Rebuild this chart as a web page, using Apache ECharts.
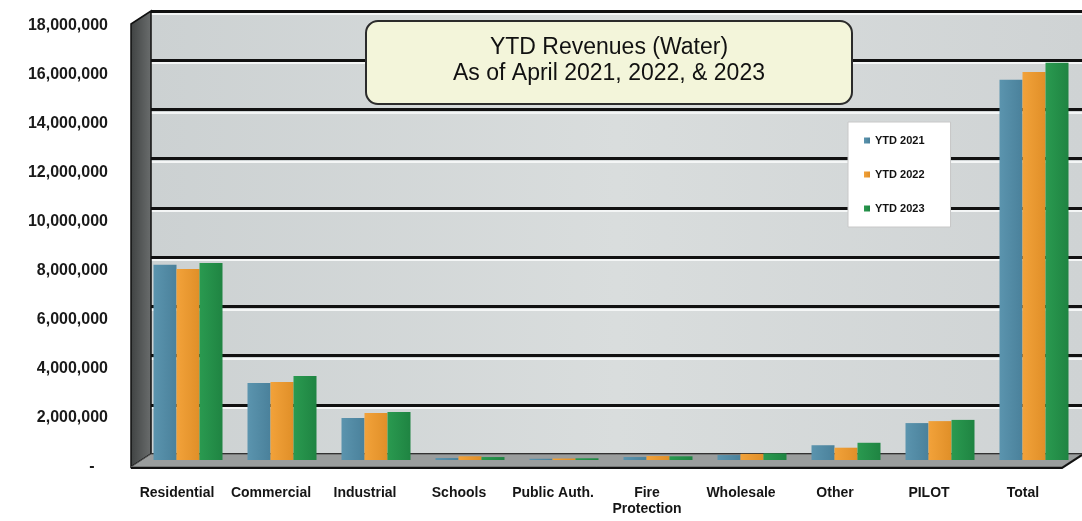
<!DOCTYPE html>
<html>
<head>
<meta charset="utf-8">
<title>YTD Revenues (Water)</title>
<script src="https://cdn.jsdelivr.net/npm/echarts@6/dist/echarts.min.js"></script>
<style>
  html, body { margin: 0; padding: 0; background: #ffffff; }
  #chart { width: 1082px; height: 521px; }
</style>
</head>
<body>
<div id="chart"></div>
<script>
// Revenue categories (x axis)
const categories = ['Residential', 'Commercial', 'Industrial', 'Schools', 'Public Auth.',
  'Fire\nProtection', 'Wholesale', 'Other', 'PILOT', 'Total'];

// Year-to-date water revenues as of April, in dollars
const ytd2021 = [7930000, 3130000, 1710000, 80000, 50000, 120000, 200000, 600000, 1500000, 15450000];
const ytd2022 = [7760000, 3170000, 1910000, 150000, 60000, 160000, 250000, 500000, 1580000, 15770000];
const ytd2023 = [8000000, 3410000, 1950000, 120000, 70000, 150000, 270000, 700000, 1630000, 16140000];

const seriesNames = ['YTD 2021', 'YTD 2022', 'YTD 2023'];

// Value axis ticks
const yMin = 0;
const yMax = 18000000;
const yStep = 2000000;

const FONT = '"Liberation Sans", Arial, sans-serif';
const colors = ['#5b94ae', '#f2a23a', '#2a9a50'];
const darker = ['#4a819b', '#e08f28', '#1f8442'];

// Layout of the pseudo-3D plot box: back wall, side wall and floor
const W = 1082, H = 521;
const wall = { left: 151, top: 11, bottom: 67 };            // back wall
const depth = { x: 20, y: 13 };                              // offset to the front edge
const front = { left: 141, right: 1, top: 17, bottom: 61 };  // plane the bars stand on
const edge = { left: 130, right: 12, top: 26, bottom: 54 };  // front edge that carries the labels

const chart = echarts.init(document.getElementById('chart'), null, { renderer: 'canvas' });

function hGrad(c1, c2) {
  return new echarts.graphic.LinearGradient(0, 0, 1, 0, [
    { offset: 0, color: c1 }, { offset: 1, color: c2 }
  ]);
}

const wallBottomY = H - wall.bottom;
const frontY = wallBottomY + depth.y;

const hiddenValueAxis = (gridIndex) => ({ gridIndex, type: 'value', min: 0, max: 1, show: false });

const option = {
  backgroundColor: '#ffffff',
  animation: false,
  grid: [
    { left: wall.left, right: 0, top: wall.top, bottom: wall.bottom, show: true, borderWidth: 0,
      backgroundColor: new echarts.graphic.LinearGradient(0, 0, 1, 0, [
        { offset: 0, color: '#ccd1d2' }, { offset: 0.5, color: '#d9dddd' }, { offset: 1, color: '#cfd3d4' }
      ]) },
    { left: wall.left, right: 0, top: wall.top + 3, bottom: wall.bottom - 3 },
    { left: front.left, right: front.right, top: front.top, bottom: front.bottom },
    { left: edge.left, right: edge.right, top: edge.top, bottom: edge.bottom }
  ],
  xAxis: [
    hiddenValueAxis(0),
    hiddenValueAxis(1),
    { gridIndex: 2, type: 'category', data: categories, show: false },
    { gridIndex: 3, type: 'category', data: categories,
      axisLine: { show: false }, axisTick: { show: false },
      axisLabel: { interval: 0, margin: 18, lineHeight: 16,
        fontFamily: FONT, fontSize: 14, fontWeight: 'bold', color: '#151515' } }
  ],
  yAxis: [
    { gridIndex: 0, type: 'value', min: yMin, max: yMax, interval: yStep,
      axisLine: { show: false }, axisTick: { show: false }, axisLabel: { show: false },
      splitLine: { show: true, lineStyle: { color: '#111111', width: 3 } } },
    { gridIndex: 1, type: 'value', min: yMin, max: yMax, interval: yStep,
      axisLine: { show: false }, axisTick: { show: false }, axisLabel: { show: false },
      splitLine: { show: true, lineStyle: { color: '#f4f6f6', width: 2 } } },
    { gridIndex: 2, type: 'value', min: yMin, max: yMax, interval: yStep, show: false },
    { gridIndex: 3, type: 'value', min: yMin, max: yMax, interval: yStep,
      axisLine: { show: false }, axisTick: { show: false },
      splitLine: { show: false },
      axisLabel: { margin: 22,
        fontFamily: FONT, fontSize: 16, fontWeight: 'bold', color: '#1a1a1a',
        formatter: v => v === 0 ? '-   ' : v.toLocaleString('en-US') } }
  ],
  legend: {
    orient: 'vertical', left: 848, top: 122,
    icon: 'rect', itemWidth: 6, itemHeight: 6, itemGap: 23,
    padding: [13, 26, 13, 16],
    backgroundColor: '#ffffff', borderColor: '#c8c8c8', borderWidth: 1,
    textStyle: { fontFamily: FONT, fontSize: 11, fontWeight: 'bold', color: '#111' },
    data: seriesNames
  },
  graphic: [
    // side wall on the left
    { type: 'polygon', z: 1, shape: { points: [
        [wall.left - depth.x, wall.top + depth.y], [wall.left, wall.top],
        [wall.left, wallBottomY], [wall.left - depth.x, frontY]] },
      style: { fill: new echarts.graphic.LinearGradient(0, 0, 1, 0, [
        { offset: 0, color: '#3f4242' }, { offset: 1, color: '#6b6e6e' }]),
        stroke: '#111', lineWidth: 1.5 } },
    // floor
    { type: 'polygon', z: 1, shape: { points: [
        [wall.left - depth.x, frontY], [wall.left, wallBottomY],
        [W, wallBottomY], [W - depth.x, frontY]] },
      style: { fill: '#9a9d9d', stroke: '#555', lineWidth: 1 } },
    { type: 'polyline', z: 3, shape: { points: [
        [wall.left - depth.x, frontY + 1], [W - depth.x, frontY + 1], [W, wallBottomY + 1]] },
      style: { stroke: '#111', lineWidth: 2, fill: null } },
    // title box
    { type: 'rect', z: 10, shape: { x: 366, y: 21, width: 486, height: 83, r: 12 },
      style: { fill: '#f3f5da', stroke: '#2b2b2b', lineWidth: 2 } },
    { type: 'text', z: 11, x: 609, y: 61,
      style: { text: 'YTD Revenues (Water)\nAs of April 2021, 2022, & 2023',
        align: 'center', verticalAlign: 'middle', lineHeight: 26,
        font: '23px ' + FONT, fill: '#111111' } }
  ],
  series: [ytd2021, ytd2022, ytd2023].map((data, i) => ({
    name: seriesNames[i], type: 'bar', xAxisIndex: 2, yAxisIndex: 2, z: 4,
    barWidth: 23, barGap: '0%',
    itemStyle: { color: hGrad(colors[i], darker[i]) },
    data: data
  })),
  color: colors
};

chart.setOption(option);
</script>
</body>
</html>
